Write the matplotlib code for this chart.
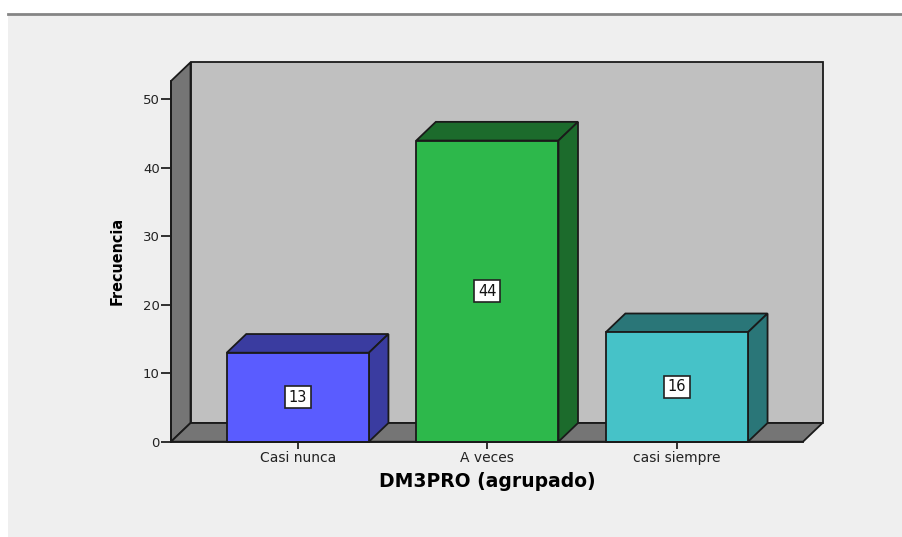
import matplotlib.pyplot as plt
from matplotlib.patches import Polygon, Rectangle
from matplotlib.lines import Line2D
from matplotlib import font_manager

categories = ["Casi nunca", "A veces", "casi siempre"]
counts = [13, 44, 16]
front_colors = ["#5a5cff", "#2db84b", "#46c2c8"]
shade_colors = ["#3a3ca0", "#1c6b2c", "#2a7678"]
yticks = [0, 10, 20, 30, 40, 50]

W, H = 903, 537
fig = plt.figure(figsize=(W / 100, H / 100), dpi=100)
fig.patch.set_facecolor("white")

# grey panel with the rule along the top
fig.add_artist(Rectangle((8 / W, 0), 1, (H - 15) / H, transform=fig.transFigure,
                         facecolor="#efefef", edgecolor="none", zorder=0))
fig.add_artist(Line2D([8 / W, 1], [(H - 14) / H] * 2, transform=fig.transFigure,
                      color="#858585", lw=2, zorder=1))

ax = fig.add_axes([171 / W, (H - 441.7) / H, 632 / W, 360.7 / H])
ax.set_facecolor("none")
x0, x1 = -0.669, 2.665
ymax = 52.7
ax.set_xlim(x0, x1)
ax.set_ylim(0, ymax)

dx, dy = 0.103, 2.73   # depth offset
ec = "#1a1a1a"
lw = 1.3

# back wall, side wall, floor
ax.add_patch(Polygon([(x0 + dx, dy), (x1 + dx, dy), (x1 + dx, ymax + dy), (x0 + dx, ymax + dy)],
                     closed=True, facecolor="#c0c0c0", edgecolor=ec, lw=lw, clip_on=False, zorder=1))
ax.add_patch(Polygon([(x0, 0), (x0 + dx, dy), (x0 + dx, ymax + dy), (x0, ymax)],
                     closed=True, facecolor="#757575", edgecolor=ec, lw=lw, clip_on=False, zorder=2))
ax.add_patch(Polygon([(x0, 0), (x1, 0), (x1 + dx, dy), (x0 + dx, dy)],
                     closed=True, facecolor="#757575", edgecolor=ec, lw=lw, clip_on=False, zorder=2))

bw = 0.75
for i, (v, fc, sc) in enumerate(zip(counts, front_colors, shade_colors)):
    l, r = i - bw / 2, i + bw / 2
    ax.add_patch(Polygon([(l, v), (r, v), (r + dx, v + dy), (l + dx, v + dy)],
                         closed=True, facecolor=sc, edgecolor=ec, lw=lw, clip_on=False, zorder=3))
    ax.add_patch(Polygon([(r, 0), (r + dx, dy), (r + dx, v + dy), (r, v)],
                         closed=True, facecolor=sc, edgecolor=ec, lw=lw, clip_on=False, zorder=3))
    ax.add_patch(Rectangle((l, 0), bw, v, facecolor=fc, edgecolor=ec, lw=lw,
                           clip_on=False, zorder=4))
    ax.text(i, v / 2, str(v), ha="center", va="center", fontsize=10.5, color="#111111", zorder=5,
            bbox=dict(boxstyle="square,pad=0.25", facecolor="white", edgecolor="#222222", lw=1.2))

for s in ["top", "right"]:
    ax.spines[s].set_visible(False)
for s in ["left", "bottom"]:
    ax.spines[s].set_linewidth(lw)
    ax.spines[s].set_color(ec)
    ax.spines[s].set_zorder(6)

ax.set_yticks(yticks)
ax.set_xticks(range(len(categories)))
ax.set_xticklabels(categories)
ax.tick_params(axis="y", length=7, width=1.3, pad=1, labelsize=9.5, colors="#222222")
ax.tick_params(axis="x", length=5, width=1.3, pad=2, labelsize=10, colors="#222222")

ax.set_xlabel("DM3PRO (agrupado)", fontsize=13.5, fontweight="bold", labelpad=5)

# condensed bold face for the y title, if one is installed
narrow = None
for name in ["Liberation Sans Narrow", "DejaVu Sans Condensed"]:
    try:
        font_manager.findfont(font_manager.FontProperties(family=name, weight="bold"),
                              fallback_to_default=False)
        narrow = name
        break
    except Exception:
        pass
if narrow:
    ax.set_ylabel("Frecuencia", fontsize=13.5, fontweight="bold", labelpad=13, family=narrow)
else:
    ax.set_ylabel("Frecuencia", fontsize=11.5, fontweight="bold", labelpad=13,
                  fontstretch="condensed")

fig.savefig("out.png", dpi=100)
